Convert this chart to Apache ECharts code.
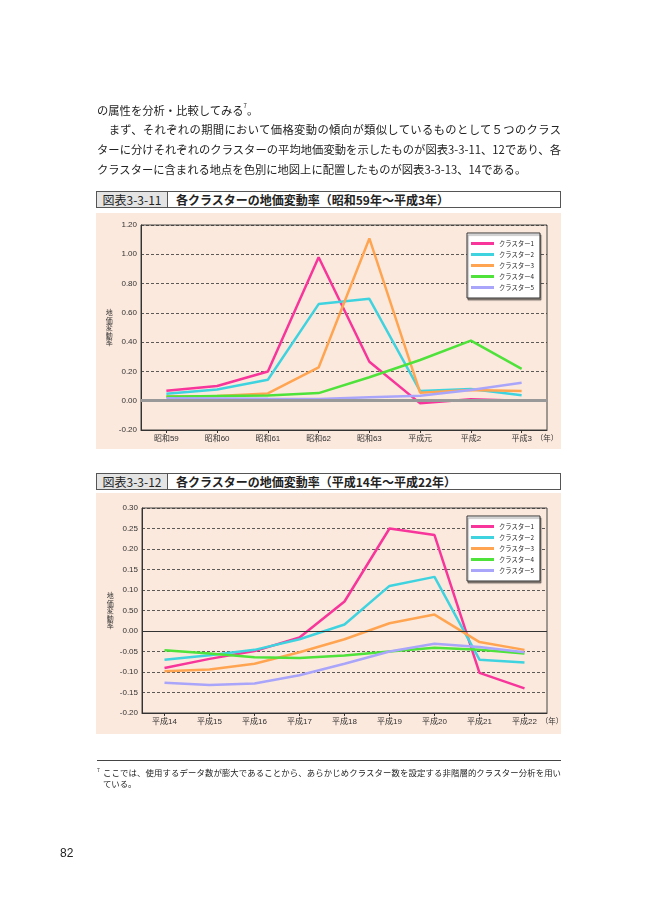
<!DOCTYPE html>
<html><head><meta charset="utf-8">
<script src="https://cdn.jsdelivr.net/npm/echarts@6/dist/echarts.min.js"></script>
<style>
html,body{margin:0;padding:0;background:#fff;}
body{width:669px;height:916px;position:relative;overflow:hidden;font-family:"Noto Sans CJK JP","Noto Sans",sans-serif;color:#222;}
.abs{position:absolute;}
.panel{position:absolute;background:#fce9dd;z-index:0;}
#chart{position:absolute;left:0;top:0;width:669px;height:916px;z-index:1;}
.txt{position:absolute;z-index:2;font-size:11.3px;line-height:14px;white-space:nowrap;}
.just{text-align:justify;text-align-last:justify;white-space:normal;}
.tbox{position:absolute;z-index:2;left:96px;width:465px;height:17px;border:1px solid #555;box-sizing:border-box;background:#fff;}
.tnum{position:absolute;left:0;top:0;width:70px;height:15px;background:#e4e4e4;border-right:1px solid #555;font-size:12px;line-height:15px;text-align:center;font-family:"Noto Sans CJK JP",sans-serif;}
.ttl{position:absolute;left:79px;top:0;height:15px;font-size:12px;line-height:15px;font-weight:bold;white-space:nowrap;}
sup{font-size:6px;vertical-align:top;line-height:6px;}
</style></head>
<body>
<div class="panel" style="left:96px;top:213px;width:465px;height:236px;"></div>
<div class="panel" style="left:96px;top:493px;width:465px;height:241px;"></div>
<div id="chart"></div>

<div class="txt" style="left:97px;top:103px;">の属性を分析・比較してみる<sup>7</sup>。</div>
<div class="txt just" style="left:97px;top:122px;width:464px;">　まず、それぞれの期間において価格変動の傾向が類似しているものとして５つのクラス</div>
<div class="txt just" style="left:97px;top:142px;width:464px;">ターに分けそれぞれのクラスターの平均地価変動を示したものが図表3-3-11、12であり、各</div>
<div class="txt" style="left:97px;top:162px;">クラスターに含まれる地点を色別に地図上に配置したものが図表3-3-13、14である。</div>

<div class="tbox" style="top:191px;"><div class="tnum">図表3-3-11</div><div class="ttl">各クラスターの地価変動率（昭和59年～平成3年）</div></div>
<div class="tbox" style="top:473px;"><div class="tnum">図表3-3-12</div><div class="ttl">各クラスターの地価変動率（平成14年～平成22年）</div></div>

<div class="abs" style="left:97px;top:760px;width:464px;height:1px;background:#444;z-index:2;"></div>
<div class="abs" style="left:97px;top:766px;font-size:5px;z-index:2;">7</div>
<div class="txt just" style="left:103px;top:767px;width:458px;font-size:8.4px;line-height:11px;">ここでは、使用するデータ数が膨大であることから、あらかじめクラスター数を設定する非階層的クラスター分析を用い</div>
<div class="txt" style="left:103px;top:778px;font-size:8.4px;line-height:11px;">ている。</div>
<div class="txt" style="left:60px;top:846px;font-size:12px;font-family:'Liberation Sans',sans-serif;">82</div>

<script>
// ---- data ----
const seriesNames = ['クラスター1','クラスター2','クラスター3','クラスター4','クラスター5'];
const seriesColors = ['#f8359a','#3fd3e0','#ffa552','#4ee23a','#a9a5fb'];

const cats1 = ['昭和59','昭和60','昭和61','昭和62','昭和63','平成元','平成2','平成3'];
const c1_1 = [0.068,0.100,0.200,0.980,0.266,-0.018,0.010,0.000];
const c1_2 = [0.048,0.077,0.143,0.660,0.696,0.066,0.080,0.037];
const c1_3 = [0.030,0.032,0.050,0.227,1.108,0.055,0.073,0.066];
const c1_4 = [0.027,0.032,0.036,0.052,0.160,0.278,0.410,0.218];
const c1_5 = [0.016,0.015,0.013,0.012,0.023,0.034,0.073,0.123];
const yTicks1 = ['-0.20','0.00','0.20','0.40','0.60','0.80','1.00','1.20'];

const cats2 = ['平成14','平成15','平成16','平成17','平成18','平成19','平成20','平成21','平成22'];
const c2_1 = [-0.090,-0.068,-0.049,-0.016,0.072,0.250,0.234,-0.102,-0.140];
const c2_2 = [-0.070,-0.059,-0.046,-0.020,0.016,0.110,0.132,-0.070,-0.077];
const c2_3 = [-0.098,-0.094,-0.080,-0.052,-0.020,0.019,0.040,-0.027,-0.046];
const c2_4 = [-0.047,-0.055,-0.064,-0.066,-0.060,-0.050,-0.041,-0.046,-0.055];
const c2_5 = [-0.126,-0.132,-0.128,-0.108,-0.080,-0.050,-0.031,-0.039,-0.052];
const yTicks2 = ['-0.20','-0.15','-0.10','-0.05','0.00','0.50','0.10','0.15','0.20','0.25','0.30'];

const data1 = [c1_1,c1_2,c1_3,c1_4,c1_5];
const data2 = [c2_1,c2_2,c2_3,c2_4,c2_5];

// ---- chart ----
const FONT = '"Liberation Sans","Noto Sans CJK JP",sans-serif';
const chart = echarts.init(document.getElementById('chart'), null, {renderer:'canvas'});

function yAxisCfg(gi, min, max, interval, ticks){
  return {
    type:'value', gridIndex:gi, min:min, max:max, interval:interval,
    axisLine:{show:true, lineStyle:{color:'#333', width:1}},
    axisTick:{show:false},
    axisLabel:{fontSize:8, color:'#333', margin:4, fontFamily:FONT,
      formatter:function(v){ return ticks[Math.round((v-min)/interval)]; }},
    splitLine:{show:true, lineStyle:{color:'#333', width:0.8, type:[3,2]}},
    name:'地\n価\n変\n動\n率', nameLocation:'middle', nameGap:28, nameRotate:0,
    nameTextStyle:{fontSize:7, lineHeight:7.5, color:'#333', fontFamily:'"Noto Sans CJK JP",sans-serif'}
  };
}
function xAxisCfg(gi, cats){
  return {
    type:'category', gridIndex:gi, data:cats, boundaryGap:true,
    axisLine:{show:true, onZero:false, lineStyle:{color:'#333', width:1}},
    axisTick:{show:true, alignWithLabel:true, length:3, lineStyle:{color:'#333'}},
    axisLabel:{fontSize:8, color:'#333', margin:5, interval:0, fontFamily:FONT},
    splitLine:{show:false},
    name:'（年）', nameLocation:'end', nameGap:-15,
    nameTextStyle:{fontSize:7.5, color:'#333', verticalAlign:'top', padding:[4,0,0,0], fontFamily:'"Noto Sans CJK JP",sans-serif'}
  };
}
function legendCfg(top){
  return {
    data:seriesNames, orient:'vertical', left:467, top:top,
    icon:'rect', itemWidth:23, itemHeight:3, itemGap:0,
    padding:[5,6,5,4],
    backgroundColor:'#fff', borderColor:'#333', borderWidth:1,
    shadowColor:'rgba(0,0,0,0.4)', shadowOffsetX:1, shadowOffsetY:2, shadowBlur:1,
    textStyle:{fontSize:6.3, lineHeight:11, color:'#222', fontFamily:'"Noto Sans CJK JP",sans-serif'},
    selectedMode:false
  };
}

const series = [];
// zero lines
series.push({type:'line', xAxisIndex:0, yAxisIndex:0, data:cats1.map(()=>null), silent:true,
  markLine:{silent:true, symbol:'none', label:{show:false}, animation:false,
    lineStyle:{color:'#999', width:3, type:'solid'}, data:[{yAxis:0}]}});
series.push({type:'line', xAxisIndex:1, yAxisIndex:1, data:cats2.map(()=>null), silent:true,
  markLine:{silent:true, symbol:'none', label:{show:false}, animation:false,
    lineStyle:{color:'#333', width:1, type:'solid'}, data:[{yAxis:0}]}});
[data1, data2].forEach(function(set, gi){
  set.forEach(function(arr, i){
    series.push({
      name:seriesNames[i], type:'line', xAxisIndex:gi, yAxisIndex:gi,
      data:arr, symbol:'none', smooth:false, animation:false,
      lineStyle:{color:seriesColors[i], width:2.5},
      itemStyle:{color:seriesColors[i]}
    });
  });
});

chart.setOption({
  animation:false,
  backgroundColor:'transparent',
  grid:[
    {left:141, top:225, width:406, height:205, show:true, borderColor:'#444', borderWidth:1, backgroundColor:'transparent'},
    {left:142, top:508, width:405, height:205, show:true, borderColor:'#444', borderWidth:1, backgroundColor:'transparent'}
  ],
  xAxis:[xAxisCfg(0,cats1), xAxisCfg(1,cats2)],
  yAxis:[yAxisCfg(0,-0.2,1.2,0.2,yTicks1), yAxisCfg(1,-0.2,0.3,0.05,yTicks2)],
  legend:[legendCfg(233), legendCfg(516)],
  series:series
});
</script>
</body></html>
